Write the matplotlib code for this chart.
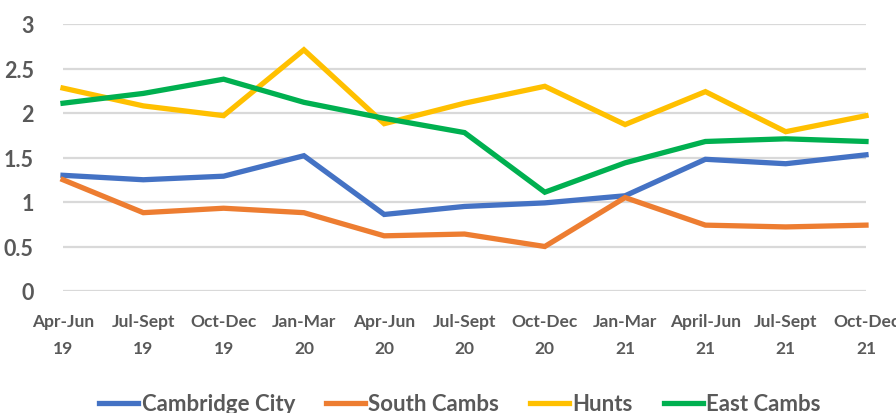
import matplotlib
matplotlib.use("Agg")
import matplotlib.pyplot as plt

categories = ["Apr-Jun\n19", "Jul-Sept\n19", "Oct-Dec\n19", "Jan-Mar\n20", "Apr-Jun\n20",
              "Jul-Sept\n20", "Oct-Dec\n20", "Jan-Mar\n21", "April-Jun\n21", "Jul-Sept\n21", "Oct-Dec\n21"]
cambridge_city = [1.30, 1.25, 1.29, 1.52, 0.86, 0.95, 0.99, 1.07, 1.48, 1.43, 1.53]
south_cambs = [1.25, 0.88, 0.93, 0.88, 0.62, 0.64, 0.50, 1.05, 0.74, 0.72, 0.74]
hunts = [2.28, 2.08, 1.97, 2.71, 1.88, 2.11, 2.30, 1.87, 2.24, 1.79, 1.97]
east_cambs = [2.11, 2.22, 2.38, 2.12, 1.94, 1.78, 1.11, 1.44, 1.68, 1.71, 1.68]
series_names = ["Cambridge City", "South Cambs", "Hunts", "East Cambs"]
yticks = [0, 0.5, 1, 1.5, 2, 2.5, 3]
ytick_labels = ["0", "0.5", "1", "1.5", "2", "2.5", "3"]

colors = ["#4472C4", "#ED7D31", "#FFC000", "#00B050"]
txt = "#595959"
fam = ["Lato", "DejaVu Sans"]
plt.rcParams['font.family'] = fam

fig = plt.figure(figsize=(8.96, 4.14), dpi=100)
ax = fig.add_axes([63/896, 1-292/414, (866-63)/896, (292-25)/414])
x = list(range(len(categories)))
for vals, name, c in zip([cambridge_city, south_cambs, hunts, east_cambs], series_names, colors):
    ax.plot(x, vals, color=c, lw=3.8, label=name, solid_joinstyle='miter', clip_on=False)

ax.set_xlim(0, len(categories)-1)
ax.set_ylim(0, 3)
ax.set_yticks(yticks)
ax.set_yticklabels(ytick_labels)
ax.set_xticks(x)
ax.set_xticklabels(categories, linespacing=1.85)
ax.grid(axis='y', color='#D9D9D9', lw=1.6)
ax.set_axisbelow(True)
for s in ax.spines.values():
    s.set_visible(False)
ax.tick_params(axis='both', length=0, colors=txt)
ax.tick_params(axis='y', pad=21, labelsize=15.5)
ax.tick_params(axis='x', pad=16, labelsize=12.5)
for lab in ax.get_xticklabels() + ax.get_yticklabels():
    lab.set_fontweight('bold')

leg = fig.legend(loc='center', bbox_to_anchor=(460/896, 0.022), ncol=4, frameon=False,
                 handlelength=1.75, handletextpad=0.15, columnspacing=1.4,
                 prop={'family': fam, 'size': 16, 'weight': 'bold'})
for t in leg.get_texts():
    t.set_color(txt)
for h in leg.get_lines():
    h.set_linewidth(3.8)

fig.savefig("out.png", dpi=100)
